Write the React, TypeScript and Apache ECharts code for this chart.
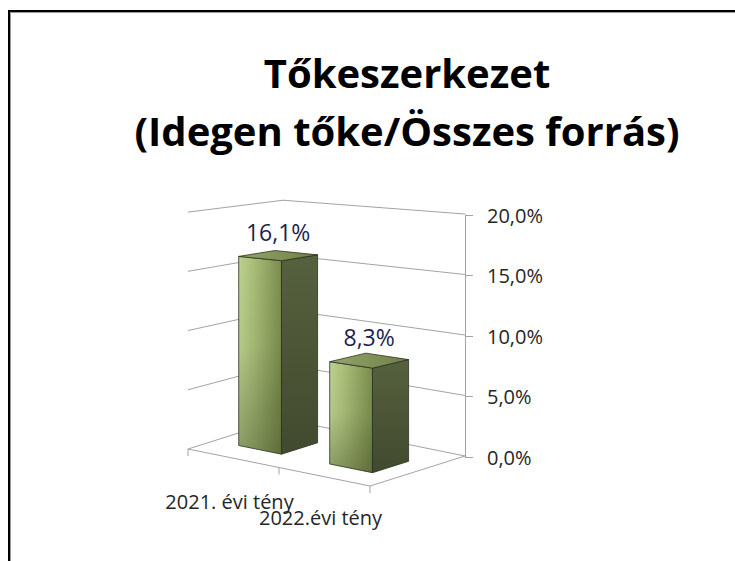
import React, { useEffect, useRef } from "react";
import * as echarts from "echarts";

// ---- data ----
const categories = ["2021. évi tény", "2022.évi tény"];
const values = [16.1, 8.3];
const yTicks = [0, 5, 10, 15, 20];
const Y_MIN = 0;
const Y_MAX = 20;
const Y_STEP = 5;
const titleLines = ["Tőkeszerkezet", "(Idegen tőke/Összes forrás)"];

const fmt = (v: number) => v.toFixed(1).replace(".", ",") + "%";

// ---- pseudo-3D layout constants ----
const DEPTH = [95, -30]; // floor depth vector (front -> back), px
const FRONT_DY = 37; // vertical drop of the front edge over its full length
const PERSP_A = 0.048; // perspective change per category unit
const PERSP_B = -0.075; // perspective change per depth unit
const BAR_HALF = 0.235; // half bar width in category units
const BAR_B0 = 0.28;
const BAR_B1 = 0.66;
const LABEL_DY = 24;
const FONT = "'Open Sans', 'Noto Sans', sans-serif";

function projector(params: any, api: any) {
  const cs = params.coordSys;
  const n = categories.length;
  const y0 = api.coord([0, Y_MIN])[1];
  const kAxis = (y0 - api.coord([0, Y_MAX])[1]) / (Y_MAX - Y_MIN);
  const R = [cs.x + cs.width, y0 - 1];
  const F = [R[0] - DEPTH[0], R[1] - DEPTH[1]];
  const L = [cs.x, F[1] - FRONT_DY];
  const u = [(F[0] - L[0]) / n, (F[1] - L[1]) / n];
  const band = api.size([1, 0])[0];
  const P = (a: number, b: number, z: number) => {
    const p = 1 + PERSP_A * (a - n) + PERSP_B * (b - 1);
    return [
      L[0] + a * u[0] + b * DEPTH[0],
      L[1] + a * u[1] + b * DEPTH[1] - (z - Y_MIN) * kAxis * p,
    ];
  };
  const catA = (i: number) => (api.coord([i, Y_MIN])[0] - cs.x) / band;
  return { P, n, catA };
}

const GRID_COLOR = "#a3a3a3";

export default function App() {
  const ref = useRef<HTMLDivElement>(null);

  useEffect(() => {
    const chart = echarts.init(ref.current!, null, { renderer: "svg" });

    const option: any = {
      animation: false,
      backgroundColor: "#ffffff",
      grid: { left: 188, right: 270, top: 215, bottom: 104 },
      xAxis: {
        type: "category",
        data: categories,
        show: false,
        boundaryGap: true,
      },
      yAxis: {
        type: "value",
        position: "right",
        min: Y_MIN,
        max: Y_MAX,
        interval: Y_STEP,
        axisLine: { show: true, lineStyle: { color: GRID_COLOR, width: 1 } },
        axisTick: { show: true, length: 8, lineStyle: { color: GRID_COLOR } },
        splitLine: { show: false },
        axisLabel: {
          margin: 22,
          formatter: (v: number) => fmt(v),
          fontFamily: FONT,
          fontSize: 20,
          color: "#262626",
        },
      },
      graphic: [
        { type: "rect", shape: { x: 8, y: 10, width: 727, height: 2 }, style: { fill: "#000" }, silent: true },
        { type: "rect", shape: { x: 8, y: 10, width: 2, height: 551 }, style: { fill: "#000" }, silent: true },
        { type: "rect", shape: { x: 10, y: 12, width: 725, height: 1 }, style: { fill: "#9a9a9a" }, silent: true },
        { type: "rect", shape: { x: 10, y: 12, width: 1, height: 549 }, style: { fill: "#9a9a9a" }, silent: true },
        ...titleLines.map((t, i) => ({
          type: "text",
          x: 407,
          y: 72 + i * 58,
          style: {
            text: t,
            fill: "#000",
            fontFamily: FONT,
            fontWeight: "bold",
            fontSize: 40,
            align: "center",
            verticalAlign: "middle",
          },
        })),
      ],
      series: [
        {
          // wall gridlines
          type: "custom",
          z: 1,
          silent: true,
          data: yTicks.map((t) => [0, t]),
          renderItem: (params: any, api: any) => {
            const { P, n } = projector(params, api);
            const t = api.value(1);
            return {
              type: "polyline",
              shape: { points: [P(0, 0, t), P(0, 1, t), P(n, 1, t)] },
              style: { stroke: GRID_COLOR, lineWidth: 1, fill: null },
            };
          },
        },
        {
          // floor front edge, category ticks and labels
          type: "custom",
          z: 1,
          silent: true,
          data: categories.map((c, i) => [i, Y_MIN]),
          renderItem: (params: any, api: any) => {
            const { P, n, catA } = projector(params, api);
            const i = api.value(0);
            const ac = catA(i);
            const a0 = ac - 0.5;
            const a1 = ac + 0.5;
            const last = a1 >= n - 1e-6;
            const children: any[] = [];
            children.push({
              type: "polyline",
              shape: {
                points: last
                  ? [P(a0, 0, Y_MIN), P(a1, 0, Y_MIN), P(a1, 1, Y_MIN)]
                  : [P(a0, 0, Y_MIN), P(a1, 0, Y_MIN)],
              },
              style: { stroke: GRID_COLOR, lineWidth: 1, fill: null },
            });
            const ticks = last ? [a0, a1] : [a0];
            ticks.forEach((a) => {
              const p = P(a, 0, Y_MIN);
              children.push({
                type: "line",
                shape: { x1: p[0], y1: p[1], x2: p[0], y2: p[1] + 7 },
                style: { stroke: GRID_COLOR, lineWidth: 1 },
              });
            });
            const lp = P(ac, 0, Y_MIN);
            children.push({
              type: "text",
              x: lp[0] - 4,
              y: lp[1] + 43 - i * 2,
              style: {
                text: categories[i],
                fill: "#262626",
                fontFamily: FONT,
                fontSize: 20,
                align: "center",
                verticalAlign: "middle",
              },
            });
            return { type: "group", children };
          },
        },
        {
          // 3D bars
          type: "custom",
          z: 2,
          data: values.map((v, i) => [i, v]),
          renderItem: (params: any, api: any) => {
            const { P, catA } = projector(params, api);
            const i = api.value(0);
            const v = api.value(1);
            const ac = catA(i);
            const a0 = ac - BAR_HALF;
            const a1 = ac + BAR_HALF;
            const b0 = BAR_B0;
            const b1 = BAR_B1;
            const edge = "#2c311f";
            const front = [P(a0, b0, Y_MIN), P(a1, b0, Y_MIN), P(a1, b0, v), P(a0, b0, v)];
            const side = [P(a1, b0, Y_MIN), P(a1, b1, Y_MIN), P(a1, b1, v), P(a1, b0, v)];
            const top = [P(a0, b0, v), P(a1, b0, v), P(a1, b1, v), P(a0, b1, v)];
            const tc = P(ac, (b0 + b1) / 2, v);
            return {
              type: "group",
              children: [
                {
                  type: "polygon",
                  shape: { points: front },
                  style: {
                    fill: new echarts.graphic.LinearGradient(0, 0, 1, 0, [
                      { offset: 0, color: "#bdd290" },
                      { offset: 0.35, color: "#a9bd78" },
                      { offset: 1, color: "#7b8d4d" },
                    ]),
                    stroke: null,
                  },
                },
                {
                  type: "polygon",
                  shape: { points: front },
                  style: {
                    fill: new echarts.graphic.LinearGradient(0, 0, 0, 1, [
                      { offset: 0, color: "rgba(40,50,20,0)" },
                      { offset: 0.45, color: "rgba(40,50,20,0.05)" },
                      { offset: 1, color: "rgba(40,50,20,0.35)" },
                    ]),
                    stroke: edge,
                    lineWidth: 0.8,
                  },
                },
                {
                  type: "polygon",
                  shape: { points: side },
                  style: {
                    fill: new echarts.graphic.LinearGradient(0, 0, 0, 1, [
                      { offset: 0, color: "#56613e" },
                      { offset: 1, color: "#414a2e" },
                    ]),
                    stroke: edge,
                    lineWidth: 0.8,
                  },
                },
                {
                  type: "polygon",
                  shape: { points: top },
                  style: {
                    fill: new echarts.graphic.LinearGradient(0, 0, 1, 0, [
                      { offset: 0, color: "#95a668" },
                      { offset: 1, color: "#6f7f48" },
                    ]),
                    stroke: edge,
                    lineWidth: 0.8,
                  },
                },
                {
                  type: "text",
                  x: tc[0],
                  y: tc[1] - LABEL_DY,
                  style: {
                    text: fmt(v),
                    fill: "#1f1f4d",
                    fontFamily: FONT,
                    fontSize: 23,
                    align: "center",
                    verticalAlign: "middle",
                  },
                },
              ],
            };
          },
        },
      ],
    };

    chart.setOption(option);
    return () => chart.dispose();
  }, []);

  return (
    <div
      ref={ref}
      style={{ position: "fixed", left: 0, top: 0, width: 735, height: 561, background: "#fff" }}
    />
  );
}
